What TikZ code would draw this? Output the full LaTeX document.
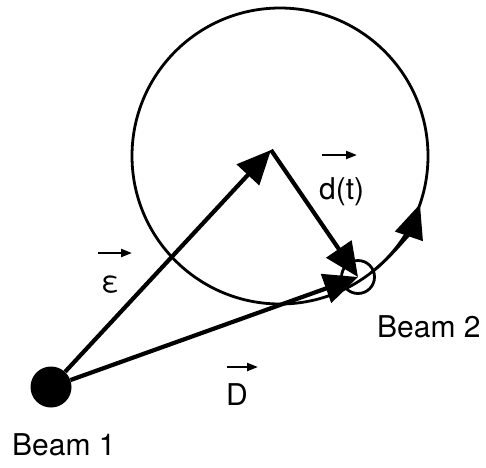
\documentclass[tikz,border=0pt]{standalone}
\usepackage{fontspec}
\setmainfont{TeX Gyre Heros}
\usetikzlibrary{arrows.meta}
\begin{document}
\begin{tikzpicture}[x=1pt,y=-1pt,
		vec/.style={line width=4.2pt,-{Triangle[length=34pt,width=30pt]}},
		orbit/.style={line width=2.8pt},
		labarrow/.style={line width=2.2pt,-{Triangle[length=11pt,width=8pt]}},
		lab/.style={inner sep=0pt,anchor=base west,font=\fontsize{30}{35}\selectfont}]
	\useasboundingbox (0,0) rectangle (486,467);
	\coordinate (orbc) at (280,156);
	\coordinate (ctr) at (271,150);
	\draw[orbit] (orbc) circle[radius=148];
	\draw[orbit,-{Triangle[length=34pt,width=29pt]}] (orbc) ++(52:148) arc[start angle=52,end angle=19,radius=148];
	\node[circle,fill=black,minimum size=41pt,inner sep=0pt] (b1) at (51,387) {};
	\node[circle,draw,orbit,minimum size=33pt,inner sep=0pt] (b2) at (358,277) {};
	\draw[vec] (b1) -- (ctr);
	\draw[vec] (b1) -- (b2.center);
	\draw[vec] (ctr) -- (b2.center);
	\node[lab] (eps) at (101,292) {ε};
	\node[lab] (vD) at (226,405) {D};
	\node[lab] (vd) at (319,199) {d(t)};
	\node[lab] (lb1) at (12,455) {Beam 1};
	\node[lab] (lb2) at (377,337) {Beam 2};
	\draw[labarrow] ([shift={(-3,-39)}]eps.base west) -- ++(34,0);
	\draw[labarrow] ([shift={(1,-38)}]vD.base west) -- ++(31,0);
	\draw[labarrow] ([shift={(3,-44)}]vd.base west) -- ++(35,0);
\end{tikzpicture}
\end{document}
